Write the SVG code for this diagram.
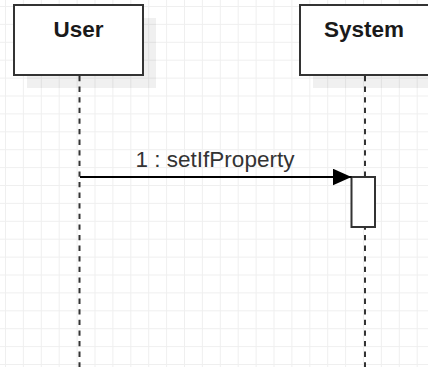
<svg xmlns="http://www.w3.org/2000/svg" width="428" height="367" viewBox="0 0 428 367">
<style>
.box{fill:#ffffff;stroke:#333333;stroke-width:2}
.shadow{fill:#000000;fill-opacity:0.06}
.life{stroke:#333333;stroke-width:2;stroke-dasharray:5.3 5.3;fill:none}
.name{font-family:"Liberation Sans",Arial,sans-serif;font-weight:bold;font-size:22.5px;fill:#1a1a1a;text-anchor:middle}
.lbl{font-family:"Liberation Sans",Arial,sans-serif;font-size:22.5px;fill:#333333;text-anchor:middle}
.msg{stroke:#000000;stroke-width:2;fill:none}
</style>
<defs>
<pattern id="grid" x="5" y="6" width="17.9" height="17.9" patternUnits="userSpaceOnUse">
<path d="M0.5 0V17.9M0 0.5H17.9" stroke="#efefef" stroke-width="1" fill="none"/>
</pattern>
<marker id="arrow" markerWidth="20" markerHeight="18" refX="19" refY="8.5" orient="auto" markerUnits="userSpaceOnUse">
<path d="M0 0L19 8.5L0 17Z" fill="#000000"/>
</marker>
</defs>
<rect width="428" height="367" fill="#ffffff"/>
<rect width="428" height="367" fill="url(#grid)"/>
<g id="lifelines">
<line class="life" x1="79.5" y1="76" x2="79.5" y2="367"/>
<line class="life" x1="365" y1="76" x2="365" y2="367"/>
</g>
<g id="user">
<rect class="shadow" x="27" y="18" width="129" height="70"/>
<rect class="box" x="14" y="5" width="129" height="70"/>
<text class="name" x="78.5" y="36.5">User</text>
</g>
<g id="system">
<rect class="shadow" x="313" y="18" width="129" height="70"/>
<rect class="box" x="300" y="5" width="129" height="70"/>
<text class="name" x="364" y="36.5">System</text>
</g>
<g id="activation">
<rect class="box" x="351.5" y="177" width="23.5" height="50"/>
</g>
<g id="connectors">
<line class="msg" x1="80" y1="177" x2="351.5" y2="177" marker-end="url(#arrow)"/>
<text class="lbl" x="215" y="167">1 : setIfProperty</text>
</g>
</svg>
